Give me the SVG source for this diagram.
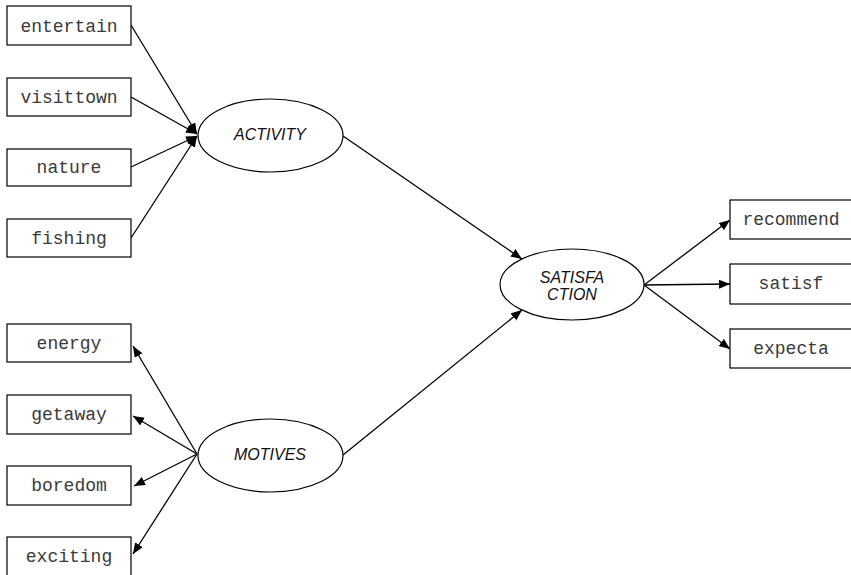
<svg xmlns="http://www.w3.org/2000/svg" width="851" height="575" viewBox="0 0 851 575">
  <style>
    .box { fill: #ffffff; stroke: #000000; stroke-width: 1.2; }
    .lat { fill: #ffffff; stroke: #000000; stroke-width: 1.2; }
    .obs { font-family: "Liberation Mono", "Courier New", monospace; font-size: 18px; fill: #3a3a3a; text-anchor: middle; }
    .latt { font-family: "Liberation Sans", Arial, sans-serif; font-size: 16px; font-style: italic; fill: #111111; text-anchor: middle; }
    .edge { stroke: #000000; stroke-width: 1.3; fill: none; marker-end: url(#arrow); }
  </style>
  <defs>
    <marker id="arrow" markerUnits="userSpaceOnUse" markerWidth="12" markerHeight="10" refX="11" refY="4.5" orient="auto">
      <path d="M0,0 L11,4.5 L0,9 Z" fill="#000000"/>
    </marker>
  </defs>
  <rect width="851" height="575" fill="#ffffff"/>

  <!-- connectors -->
  <g id="connectors">
    <line class="edge" x1="131" y1="25" x2="197" y2="134"/>
    <line class="edge" x1="131" y1="97" x2="197" y2="134"/>
    <line class="edge" x1="131" y1="167" x2="197" y2="136"/>
    <line class="edge" x1="131" y1="238" x2="197" y2="136"/>
    <line class="edge" x1="197" y1="454" x2="133" y2="346"/>
    <line class="edge" x1="197" y1="454" x2="133" y2="416"/>
    <line class="edge" x1="197" y1="454" x2="134" y2="486"/>
    <line class="edge" x1="197" y1="454" x2="133" y2="554"/>
    <line class="edge" x1="343" y1="136" x2="522" y2="259"/>
    <line class="edge" x1="343" y1="455" x2="522" y2="310"/>
    <line class="edge" x1="644" y1="285" x2="730" y2="220"/>
    <line class="edge" x1="644" y1="285" x2="730" y2="284"/>
    <line class="edge" x1="644" y1="285" x2="730" y2="349"/>
  </g>

  <!-- observed indicators, ACTIVITY -->
  <g id="entertain"><rect class="box" x="7" y="6" width="124" height="39"/><text class="obs" x="69" y="32">entertain</text></g>
  <g id="visittown"><rect class="box" x="7" y="78" width="124" height="38"/><text class="obs" x="69" y="103">visittown</text></g>
  <g id="nature"><rect class="box" x="7" y="149" width="124" height="37"/><text class="obs" x="69" y="173">nature</text></g>
  <g id="fishing"><rect class="box" x="7" y="219" width="124" height="38"/><text class="obs" x="69" y="244">fishing</text></g>

  <!-- observed indicators, MOTIVES -->
  <g id="energy"><rect class="box" x="7" y="324" width="124" height="38"/><text class="obs" x="69" y="349">energy</text></g>
  <g id="getaway"><rect class="box" x="7" y="395" width="124" height="39"/><text class="obs" x="69" y="420">getaway</text></g>
  <g id="boredom"><rect class="box" x="7" y="466" width="124" height="39"/><text class="obs" x="69" y="491">boredom</text></g>
  <g id="exciting"><rect class="box" x="7" y="537" width="124" height="40"/><text class="obs" x="69" y="562">exciting</text></g>

  <!-- observed indicators, SATISFACTION -->
  <g id="recommend"><rect class="box" x="730" y="200" width="124" height="39"/><text class="obs" x="791" y="225">recommend</text></g>
  <g id="satisf"><rect class="box" x="730" y="264" width="124" height="40"/><text class="obs" x="791" y="289">satisf</text></g>
  <g id="expecta"><rect class="box" x="730" y="329" width="124" height="39"/><text class="obs" x="791" y="354">expecta</text></g>

  <!-- latent variables -->
  <g id="activity"><ellipse class="lat" cx="270.5" cy="135.5" rx="72.5" ry="36.5"/><text class="latt" x="270" y="140">ACTIVITY</text></g>
  <g id="motives"><ellipse class="lat" cx="270.5" cy="455.5" rx="72.5" ry="36.5"/><text class="latt" x="270" y="460">MOTIVES</text></g>
  <g id="satisfaction"><ellipse class="lat" cx="572" cy="284.5" rx="72" ry="35.5"/><text class="latt" x="572" y="283">SATISFA</text><text class="latt" x="572" y="300">CTION</text></g>
</svg>
